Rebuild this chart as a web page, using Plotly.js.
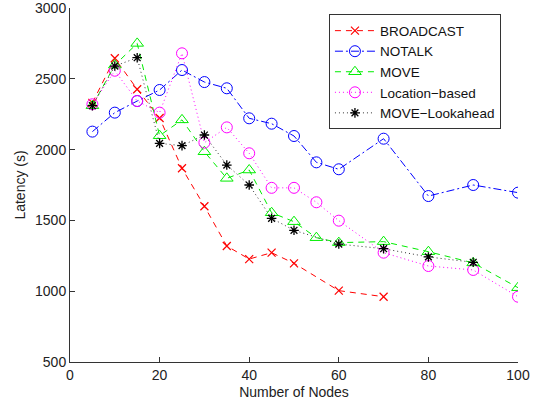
<!DOCTYPE html>
<html><head><meta charset="utf-8">
<script src="https://cdn.plot.ly/plotly-3.0.1.min.js"></script>
<style>html,body{margin:0;padding:0;background:#fff}#chart{width:534px;height:405px}</style>
</head><body><div id="chart"></div>
<script>
const broadcastX = [5,10,15,20,25,30,35,40,45,50,60,70];
const broadcastY = [2330,2645,2426,2223,1868,1600,1319,1227,1272,1197,1004,961];
const notalkX = [5,10,15,20,25,30,35,40,45,50,55,60,70,80,90,100];
const notalkY = [2127,2261,2343,2421,2562,2477,2433,2221,2183,2096,1910,1861,2077,1672,1750,1696];
const moveX = [5,10,15,20,25,30,35,40,45,50,55,60,70,80,90,100];
const moveY = [2310,2597,2750,2098,2210,1985,1797,1856,1554,1491,1378,1343,1350,1279,1200,1025];
const locX = [5,10,15,20,25,30,35,40,45,50,55,60,70,80,90,100];
const locY = [2320,2557,2343,2261,2680,2049,2157,1974,1730,1730,1628,1498,1272,1178,1150,961];
const lookX = [5,10,15,20,25,30,35,40,45,50,60,70,80,90];
const lookY = [2310,2590,2649,2044,2028,2103,1891,1750,1515,1430,1333,1300,1242,1204];

const names = ['BROADCAST','NOTALK','MOVE','Location\u2212based','MOVE\u2212Lookahead'];
const xTicks = [0,20,40,60,80,100];
const yTicks = [500,1000,1500,2000,2500,3000];

const traces = [
  {x:broadcastX,y:broadcastY,name:names[0],mode:'lines+markers',
   line:{color:'#ff0000',width:1,dash:'6px,5px'},marker:{symbol:'x-thin-open',size:8,color:'#ff0000',line:{width:1.2,color:'#ff0000'}}},
  {x:notalkX,y:notalkY,name:names[1],mode:'lines+markers',
   line:{color:'#0000ff',width:1,dash:'8px,3px,2px,3px'},marker:{symbol:'circle-open',size:11,color:'#0000ff',line:{width:1,color:'#0000ff'}}},
  {x:moveX,y:moveY,name:names[2],mode:'lines+markers',
   line:{color:'#00ee00',width:1,dash:'6px,5px'},marker:{symbol:'triangle-up-open',size:11,color:'#00ee00',line:{width:1,color:'#00ee00'}}},
  {x:locX,y:locY,name:names[3],mode:'lines+markers',
   line:{color:'#ff00ff',width:1,dash:'1px,3px'},marker:{symbol:'circle-open',size:11,color:'#ff00ff',line:{width:1,color:'#ff00ff'}}},
  {x:lookX,y:lookY,name:names[4],mode:'lines+markers',
   line:{color:'#333333',width:1,dash:'1px,3px'},marker:{symbol:'asterisk-open',size:8,color:'#000000',line:{width:1.3,color:'#000000'}}}
];

const layout = {
  width:534,height:405,
  margin:{l:70,r:16,t:8,b:43},
  paper_bgcolor:'#fff',plot_bgcolor:'#fff',
  font:{family:'Liberation Sans, Arial, sans-serif',size:14,color:'#222'},
  showlegend:true,
  legend:{x:0.578,y:0.982,xanchor:'left',yanchor:'top',bgcolor:'#fff',bordercolor:'#333',borderwidth:1,
    font:{size:13.5,color:'#111'},tracegroupgap:0,itemwidth:40},
  xaxis:{range:[0,100],tickvals:xTicks,ticks:'inside',ticklen:5,tickcolor:'#333',
    showline:true,linecolor:'#333',linewidth:1,showgrid:false,zeroline:false,mirror:false,
    ticklabeloverflow:'allow',
    title:{text:'Number of Nodes',standoff:5,font:{size:14}}},
  yaxis:{range:[500,3000],tickvals:yTicks,ticks:'inside',ticklen:5,tickcolor:'#333',
    showline:true,linecolor:'#333',linewidth:1,showgrid:false,zeroline:false,mirror:false,
    ticklabeloverflow:'allow',
    title:{text:'Latency (s)',standoff:6,font:{size:14}}}
};
Plotly.newPlot('chart',traces,layout,{displayModeBar:false,staticPlot:true});
</script></body></html>
